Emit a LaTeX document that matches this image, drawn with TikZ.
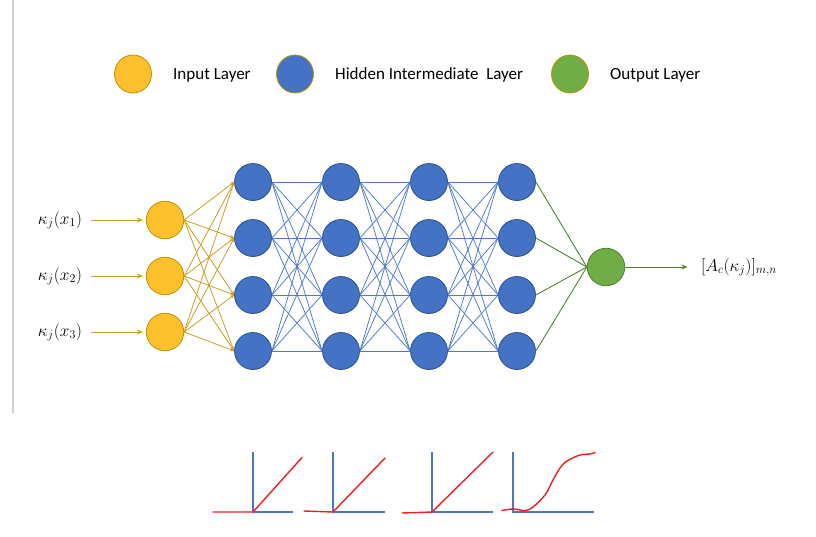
\documentclass[tikz,border=0pt]{standalone}
\usepackage{fontspec}
\setmainfont{Carlito}
\usetikzlibrary{arrows.meta,shapes.geometric}
\definecolor{inpfill}{RGB}{252,191,45}
\definecolor{inpdraw}{RGB}{191,144,0}
\definecolor{hidfill}{RGB}{68,114,196}
\definecolor{hiddraw}{RGB}{47,82,143}
\definecolor{outfill}{RGB}{112,173,71}
\definecolor{outdraw}{RGB}{80,126,50}
\definecolor{inline}{RGB}{204,158,36}
\definecolor{hidline}{RGB}{78,122,204}
\definecolor{outline}{RGB}{84,130,53}
\definecolor{actred}{RGB}{240,30,30}
\definecolor{axblue}{RGB}{78,118,196}
\definecolor{sidegray}{RGB}{210,210,210}
\begin{document}
\begin{tikzpicture}[x=1pt,y=-1pt,
  inp/.style={circle,fill=inpfill,draw=inpdraw,line width=0.8pt,minimum size=37.5pt,inner sep=0pt},
  hid/.style={circle,fill=hidfill,draw=hiddraw,line width=0.8pt,minimum size=37pt,inner sep=0pt},
  outn/.style={circle,fill=outfill,draw=outdraw,line width=0.8pt,minimum size=37.5pt,inner sep=0pt},
  leg/.style={ellipse,line width=0.8pt,draw=inpdraw,minimum width=37pt,minimum height=38pt,inner sep=0pt},
  legtext/.style={anchor=west,font=\fontsize{17}{20}\selectfont,inner sep=0pt},
  mlabel/.style={font=\fontsize{17}{20}\selectfont},
  olabel/.style={font=\fontsize{18}{22}\selectfont},
  inarrow/.style={draw=inline,line width=0.9pt,-{Stealth[length=6pt,width=5pt]}},
  inedge/.style={draw=inline,line width=0.8pt,-{Stealth[length=4pt,width=3.5pt]}},
  hidedge/.style={draw=hidline,line width=0.75pt},
  outedge/.style={draw=outline,line width=0.9pt},
  outarrow/.style={draw=outline,line width=0.9pt,-{Stealth[length=6pt,width=5pt]}},
  axisline/.style={draw=axblue,line width=1.8pt},
  actline/.style={draw=actred,line width=1.4pt,line join=round,line cap=round}]
\useasboundingbox (0,0) rectangle (816,536);
\draw[sidegray,line width=1.2pt] (13,0) -- (13,413);

% legend
\node[leg,fill=inpfill] (lg1) at (133,74) {};
\node[legtext] (lt1) at (173,75) {Input Layer};
\node[leg,fill=hidfill] (lg2) at (295,74) {};
\node[legtext] (lt2) at (335,75) {Hidden Intermediate\ \ Layer};
\node[leg,fill=outfill] (lg3) at (570,74) {};
\node[legtext] (lt3) at (610,75) {Output Layer};

% input labels and nodes
\foreach \k/\y in {1/220,2/276,3/332}{
  \node[mlabel] (x\k) at (60,\y) {$\kappa_j(x_{\k})$};
  \node[inp] (i\k) at (165,\y) {};
}
% hidden nodes
\foreach \c/\x in {1/253,2/341,3/429,4/517}{
  \foreach \r/\y in {1/182,2/238,3/295,4/351}{
    \node[hid] (h\c\r) at (\x,\y) {};
  }
}
% output
\node[outn] (o) at (606,267) {};
\node[olabel] (ol) at (739,267) {$[A_c(\kappa_j)]_{m,n}$};

% connectors
\foreach \k in {1,2,3}{
  \draw[inarrow,shorten <=5pt,shorten >=3pt] (x\k) -- (i\k);
  \foreach \r in {1,2,3,4}{
    \draw[inedge] (i\k.east) -- (h1\r.west);
  }
}
\foreach \c/\n in {1/2,2/3,3/4}{
  \foreach \a in {1,2,3,4}{
    \foreach \b in {1,2,3,4}{
      \draw[hidedge] (h\c\a.east) -- (h\n\b.west);
    }
  }
}
\foreach \r in {1,2,3,4}{
  \draw[outedge] (h4\r.east) -- (o.west);
}
\draw[outarrow,shorten >=10pt] (o) -- (ol);

% activation functions
\draw[axisline] (253,452) -- (253,512) -- (293,512);
\draw[actline] (213,512) -- (253,512) -- (302,457.5);
\draw[axisline] (333,452) -- (333,512) -- (385,512);
\draw[actline] (304,511) -- (333,512) -- (385,458);
\draw[axisline] (432,452) -- (432,512) -- (493,512);
\draw[actline] (402,513) -- (432,512) -- (493,452);
\draw[axisline] (513,452) -- (513,512) -- (594,512);
\draw[actline] plot[smooth,tension=0.6] coordinates {(502,510.5)(513,509)(525,510.5)(533,507)(545,495)(553,480)(560,468)(567,461)(580,455)(590,454)(595,452.5)};
\end{tikzpicture}
\end{document}
